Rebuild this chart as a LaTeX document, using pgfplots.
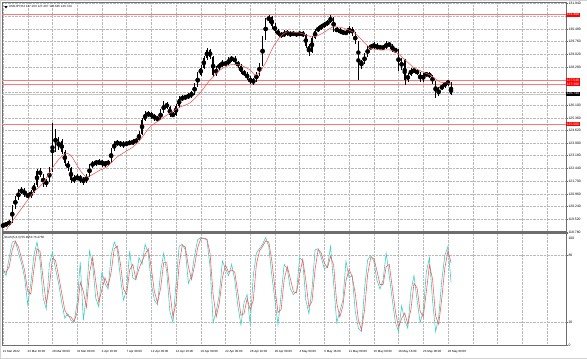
\documentclass[border=0pt]{standalone}
\usepackage{pgfplots}
\usepackage{pgfplotstable}
\pgfplotsset{compat=1.18}
\usepackage{fontspec}
\setmainfont{Liberation Sans}
\definecolor{hline}{RGB}{250,120,120}
\definecolor{maline}{RGB}{240,85,85}
\definecolor{kline}{RGB}{70,205,195}
\definecolor{dline}{RGB}{245,95,95}
\definecolor{gridc}{RGB}{185,185,185}
\definecolor{framec}{RGB}{110,110,110}
\newcommand{\tf}{\fontsize{3.4}{4}\selectfont}
\newcommand{\df}{\fontsize{3.0}{3.6}\selectfont}
\newcommand{\hf}{\fontsize{3.0}{3.6}\selectfont}

\pgfplotstableread{
i o h l c
0 119.10 119.30 119.02 119.18
2 119.18 119.36 119.10 119.24
4 119.24 119.48 119.15 119.36
6 119.36 120.35 119.30 120.22
8 120.22 120.88 120.12 120.74
10 120.74 121.25 120.62 121.09
12 121.09 121.38 120.95 121.20
14 121.20 121.30 120.78 120.91
16 120.91 121.05 120.70 120.85
18 120.85 121.20 120.75 121.09
20 121.09 121.62 121.00 121.49
22 121.49 122.42 121.40 122.30
24 122.30 122.45 121.95 122.07
26 122.07 122.15 121.38 121.49
28 121.49 121.85 121.40 121.72
30 121.72 122.50 121.65 122.35
32 122.35 125.06 122.25 124.54
34 124.54 124.70 123.40 123.62
36 123.62 124.25 123.50 124.03
38 124.03 124.15 123.25 123.39
40 123.39 123.50 122.60 122.76
42 122.76 122.90 122.30 122.47
44 122.47 122.55 121.62 121.78
46 121.78 122.05 121.60 121.83
48 121.83 122.10 121.75 121.95
50 121.95 122.05 121.60 121.83
52 121.83 121.95 121.50 121.66
54 121.66 122.15 121.58 122.01
56 122.01 122.70 121.95 122.58
58 122.58 122.90 122.45 122.76
60 122.76 122.95 122.60 122.76
62 122.76 122.98 122.62 122.81
64 122.81 122.95 122.55 122.76
66 122.76 122.88 122.50 122.70
68 122.70 122.95 122.60 122.81
70 122.81 123.65 122.75 123.51
72 123.51 124.05 123.45 123.91
74 123.91 124.10 123.75 123.91
76 123.91 124.02 123.70 123.85
78 123.85 124.00 123.65 123.80
80 123.80 124.05 123.72 123.91
82 123.91 124.06 123.78 123.91
84 123.91 124.12 123.80 123.97
86 123.97 124.20 123.88 124.08
88 124.08 124.60 124.00 124.43
90 124.43 125.38 124.35 125.24
92 125.24 125.75 125.15 125.58
94 125.58 125.76 125.40 125.58
96 125.58 125.70 125.32 125.47
98 125.47 125.58 125.20 125.35
100 125.35 125.45 125.12 125.29
102 125.29 125.85 125.22 125.70
104 125.70 126.32 125.62 126.16
106 126.16 126.28 125.88 125.98
108 125.98 126.05 125.40 125.52
110 125.52 125.70 125.40 125.52
112 125.52 126.18 125.45 126.04
114 126.04 126.60 125.95 126.45
116 126.45 126.65 126.35 126.50
118 126.50 126.70 126.40 126.56
120 126.56 126.78 126.45 126.62
122 126.62 126.92 126.52 126.79
124 126.79 127.35 126.70 127.20
126 127.20 127.98 127.12 127.83
128 127.83 128.38 127.75 128.23
130 128.23 128.95 128.15 128.81
132 128.81 129.40 128.70 129.27
134 129.27 129.35 128.75 128.87
136 128.87 128.95 127.70 127.83
138 127.83 128.35 127.75 128.23
140 128.23 128.55 128.12 128.41
142 128.41 128.68 128.30 128.52
144 128.52 128.62 128.35 128.46
146 128.46 128.85 128.38 128.69
148 128.69 128.95 128.60 128.81
150 128.81 128.90 128.48 128.58
152 128.58 128.66 128.25 128.35
154 128.35 128.45 127.90 128.00
156 128.00 128.10 127.78 127.89
158 127.89 127.98 127.55 127.66
160 127.66 127.75 127.30 127.43
162 127.43 127.65 127.25 127.54
164 127.54 128.00 127.45 127.89
166 127.89 128.55 127.80 128.41
168 128.41 130.10 128.35 129.96
170 129.96 131.12 129.85 131.00
172 131.00 131.29 130.85 131.17
174 131.17 131.22 130.50 130.65
176 130.65 130.80 130.25 130.37
178 130.37 130.50 130.05 130.19
180 130.19 130.30 129.95 130.08
182 130.08 130.40 130.00 130.25
184 130.25 130.42 130.10 130.25
186 130.25 130.35 130.00 130.14
188 130.14 130.38 130.05 130.25
190 130.25 130.32 130.02 130.14
192 130.14 130.38 130.06 130.25
194 130.25 130.35 130.00 130.14
196 130.14 130.22 129.40 129.50
198 129.50 129.62 128.90 129.15
200 129.15 130.10 129.08 129.96
202 129.96 130.50 129.88 130.37
204 130.37 130.66 130.28 130.54
206 130.54 130.78 130.45 130.65
208 130.65 130.90 130.55 130.77
210 130.77 131.00 130.66 130.88
212 130.88 131.30 130.80 131.11
214 131.11 131.18 130.30 130.42
216 130.42 130.58 130.30 130.42
218 130.42 130.52 130.20 130.31
220 130.31 130.45 130.15 130.25
222 130.25 130.40 130.12 130.25
224 130.25 130.68 130.18 130.54
226 130.54 130.62 130.08 130.19
228 130.19 130.28 129.62 129.73
230 129.73 129.80 127.54 128.52
232 128.52 128.70 128.20 128.52
234 128.52 129.10 128.45 128.98
236 128.98 129.50 128.88 129.39
238 129.39 129.62 129.30 129.44
240 129.44 129.72 129.35 129.56
242 129.56 129.65 129.28 129.39
244 129.39 129.58 129.30 129.44
246 129.44 129.55 129.25 129.39
248 129.39 129.78 129.30 129.62
250 129.62 129.70 129.45 129.56
252 129.56 129.62 129.15 129.27
254 129.27 129.38 129.10 129.27
256 129.27 129.35 128.05 128.18
258 128.18 128.80 128.10 128.69
260 128.69 128.75 127.25 127.54
262 127.54 127.95 127.45 127.83
264 127.83 128.25 127.75 128.12
266 128.12 128.20 127.95 128.06
268 128.06 128.15 127.85 127.94
270 127.94 128.00 127.40 127.54
272 127.54 127.95 127.45 127.83
274 127.83 128.00 127.75 127.89
276 127.89 127.98 127.65 127.77
278 127.77 127.85 127.30 127.43
280 127.43 127.50 126.50 126.68
282 126.68 127.15 126.60 127.02
284 127.02 127.30 126.95 127.20
286 127.20 127.45 127.10 127.37
288 127.37 127.55 127.20 127.43
290 127.10 127.41 126.65 126.74
}\ohlc

\pgfplotstableread{
i ma
2 118.90
11 120.01
19.4 121.03
25.9 121.60
32.4 122.53
36.9 123.05
41.4 123.33
44.7 123.10
49.8 122.35
54.4 121.95
62.8 122.35
67.3 122.53
73.8 123.10
84.1 123.68
88.7 124.08
95.1 124.83
101.6 125.24
108.1 125.64
114.6 125.98
121.0 126.22
127.5 126.79
134.0 127.54
140.5 128.12
146.9 128.41
153.4 128.41
159.9 128.12
163.1 127.83
166.3 128.00
170.9 128.69
174.8 129.44
179.3 130.02
183.8 130.31
192.2 130.25
200.6 130.02
207.1 130.25
213.6 130.60
220.1 130.54
226.5 130.31
231.1 129.96
237.5 129.39
244.0 129.27
250.5 129.27
255.0 129.10
258.9 128.81
265.4 128.29
271.8 128.00
276.4 127.83
282.8 127.43
287.4 127.37
290 127.31
}\matab

\pgfplotstableread{
i k d
0 68 66
2 62 65
4 78 70
6 92 85
8 93 92.5
10 82 87.5
12 73 77.5
14 60 66.5
16 36 48
18 55 45.5
20 80 67.5
22 92 86
24 75 83.5
26 42 58.5
28 32 37
30 72 52
32 83 77.5
34 68 75.5
36 55 61.5
38 38 46.5
40 24 31
42 28 26
44 22 25
46 20 21
48 38 29
50 74 56
52 22 48
54 45 33.5
56 84 64.5
58 72 78
60 42 57
62 34 38
64 65 49.5
66 55 60
68 50 52.5
70 80 65
72 92 86
74 85 88.5
76 60 72.5
78 40 50
80 50 45
82 84 67
84 60 72
86 58 59
88 78 68
90 72 75
92 90 81
94 82 86
96 55 68.5
98 40 47.5
100 36 38
102 65 50.5
104 82 73.5
106 65 73.5
108 30 47.5
110 20 25
112 55 37.5
114 88 71.5
116 90 89
118 85 87.5
120 55 70
122 62 58.5
124 80 71
126 94 87
128 96 95
130 95 95.5
132 94 94.5
134 70 82
136 20 45
138 30 25
140 45 37.5
142 75 60
144 68 71.5
146 62 65
148 72 67
150 58 65
152 35 46.5
154 18 26.5
156 38 28
158 45 41.5
160 18 31.5
162 62 40
164 82 72
166 86 84
168 90 88
170 96 93
172 88 92
174 62 75
176 40 51
178 18 29
180 45 31.5
182 72 58.5
184 68 70
186 50 59
188 45 47.5
190 48 46.5
192 78 63
194 75 76.5
196 40 57.5
198 28 34
200 50 39
202 85 67.5
204 86 85.5
206 78 82
208 68 73
210 70 69
212 88 79
214 55 71.5
216 20 37.5
218 30 25
220 40 35
222 75 57.5
224 60 67.5
226 62 61
228 30 46
230 15 22.5
232 12 13.5
234 50 31
236 76 63
238 80 78
240 75 77.5
242 58 66.5
244 50 54
246 58 54
248 82 70
250 62 72
252 40 51
254 20 30
256 12 16
258 35 23.5
260 22 28.5
262 15 18.5
264 48 31.5
266 62 55
268 40 51
270 20 30
272 30 25
274 65 47.5
276 78 71.5
278 40 59
280 12 26
282 25 18.5
284 58 41.5
286 80 69
288 88 84
290 56 73.5
}\stoch

\begin{document}
\begin{tikzpicture}
\useasboundingbox (0,0) rectangle (587pt,359pt);
\draw[gray!35, line width=0.5pt] (0.25pt,0.25pt) rectangle (586.75pt,358.75pt);
% price panel
\begin{axis}[
  at={(2pt,127pt)}, anchor=south west, scale only axis,
  width=564pt, height=230pt,
  xmin=-0.65, xmax=364.4, ymin=118.78, ymax=132.036,
  axis line style={framec, line width=0.6pt},
  xtick={0,16,...,352}, xticklabels={}, xtick style={draw=none},
  ytick={118.78,119.52,120.24,120.96,121.70,122.44,123.18,123.90,124.62,125.36,126.10,126.82,127.54,128.28,129.02,129.76,130.48,131.20,131.94},
  yticklabels={118.780,119.520,120.240,120.960,121.700,122.440,123.180,123.900,124.620,125.360,126.100,,,128.280,129.020,129.760,130.480,,131.940},
  ytick pos=right, yticklabel pos=right,
  tick align=outside, major tick length=1.5pt,
  ytick style={framec, line width=0.4pt},
  yticklabel style={font=\tf, inner sep=0.8pt},
  xmajorgrids, ymajorgrids, grid style={gridc, densely dotted, line width=0.35pt},
  clip mode=individual,
]
% horizontal lines
\addplot[hline, line width=0.9pt] coordinates {(-0.65,131.30) (364.4,131.30)};
\addplot[hline, line width=0.9pt] coordinates {(-0.65,127.54) (364.4,127.54)};
\addplot[hline, line width=0.9pt] coordinates {(-0.65,127.30) (364.4,127.30)};
\addplot[hline, line width=0.9pt] coordinates {(-0.65,125.00) (364.4,125.00)};
\addplot[gray!45, line width=0.4pt] coordinates {(-0.65,126.744) (364.4,126.744)};
% wicks
\addplot[only marks, mark=none, error bars/.cd, y dir=both, y explicit, error mark=none,
  error bar style={draw=black, solid, line width=0.4pt}]
  table[x=i, y expr={(\thisrow{h}+\thisrow{l})/2}, y error expr={(\thisrow{h}-\thisrow{l})/2}] {\ohlc};
% bodies
\addplot[only marks, mark=none, error bars/.cd, y dir=both, y explicit, error mark=none,
  error bar style={draw=black, solid, line width=1.3pt}]
  table[x=i, y expr={(\thisrow{o}+\thisrow{c})/2}, y error expr={max(abs(\thisrow{c}-\thisrow{o})/2,0.02)}] {\ohlc};
% moving average
\addplot[maline, line width=0.55pt, smooth, tension=0.4] table[x=i, y=ma] {\matab};
% price labels
\node[fill=red, text=white, font=\tf, inner sep=0.6pt, anchor=west] at (axis cs:364.4,131.30) {131.300};
\node[fill=red, text=white, font=\tf, inner sep=0.6pt, anchor=west] at (axis cs:364.4,127.54) {127.540};
\node[fill=red, text=white, font=\tf, inner sep=0.6pt, anchor=west] at (axis cs:364.4,127.30) {127.300};
\node[fill=red, text=white, font=\tf, inner sep=0.6pt, anchor=west] at (axis cs:364.4,125.00) {125.000};
\node[fill=black, text=white, font=\tf, inner sep=0.6pt, anchor=west] at (axis cs:364.4,126.744) {126.744};
% header
\fill[black] (rel axis cs:0.004,0.982) -- (rel axis cs:0.010,0.982) -- (rel axis cs:0.007,0.972) -- cycle;
\node[font=\hf, anchor=west, inner sep=0pt] at (rel axis cs:0.012,0.978) {USDJPY,H4 127.103 127.407 126.645 126.744};
\end{axis}
\draw[framec, line width=1.3pt] (2pt,127.6pt) -- (566pt,127.6pt);
% stochastic panel
\begin{axis}[
  at={(2pt,14pt)}, anchor=south west, scale only axis,
  width=564pt, height=112pt,
  xmin=-0.65, xmax=364.4, ymin=0, ymax=100,
  axis line style={framec, line width=0.6pt},
  xtick={0,16,...,352},
  xticklabels={21 Mar 2022, 23 Mar 16:00, 28 Mar 08:00, 31 Mar 00:00, 4 Apr 16:00, 7 Apr 08:00, 12 Apr 00:00, 14 Apr 16:00, 19 Apr 08:00, 22 Apr 00:00, 26 Apr 16:00, 29 Apr 08:00, 4 May 00:00, 6 May 16:00, 11 May 08:00, 16 May 00:00, 18 May 16:00, 23 May 08:00, 26 May 00:00,,,,,},
  xtick pos=bottom, xticklabel style={font=\df, anchor=north west, inner sep=0.5pt, xshift=-0.8pt, yshift=-3pt},
  ytick={0,20,80,100}, yticklabels={0,20,80,},
  ytick pos=right, yticklabel pos=right,
  tick align=outside, major tick length=1.5pt,
  tick style={framec, line width=0.4pt},
  yticklabel style={font=\tf, inner sep=0.8pt},
  xmajorgrids, ymajorgrids, grid style={gridc, densely dotted, line width=0.35pt},
  clip mode=individual,
]
\addplot[kline, line width=0.6pt] table[x=i, y=k] {\stoch};
\addplot[dline, line width=0.6pt] table[x=i, y=d] {\stoch};
\node[font=\tf, anchor=west, inner sep=0.8pt] at (axis cs:364.4,95.5) {\hspace*{1.5pt}100};
\node[font=\hf, anchor=west, inner sep=0pt] at (rel axis cs:0.004,0.955) {Stoch(5,3,3) 55.9953 73.4750};
\end{axis}
\end{tikzpicture}
\end{document}
